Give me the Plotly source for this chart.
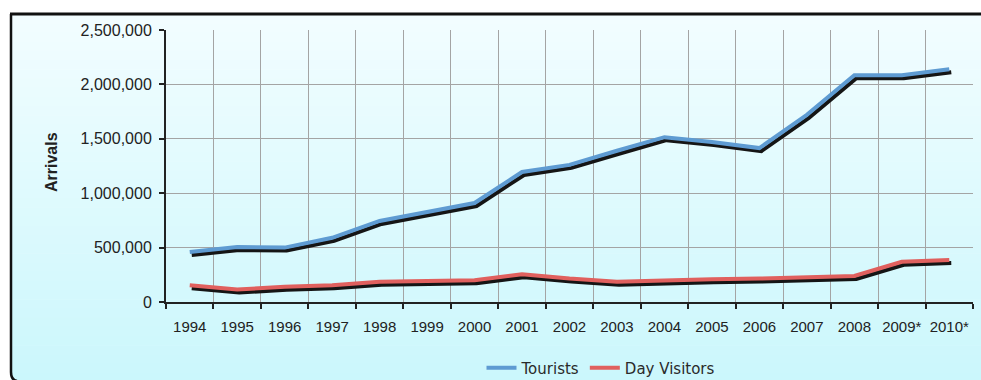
import plotly.graph_objects as go

years = ["1994", "1995", "1996", "1997", "1998", "1999", "2000", "2001", "2002",
         "2003", "2004", "2005", "2006", "2007", "2008", "2009*", "2010*"]
tourists = [460000, 505000, 500000, 590000, 745000, 830000, 910000, 1195000, 1260000,
            1390000, 1515000, 1470000, 1415000, 1720000, 2085000, 2085000, 2140000]
day_visitors = [155000, 115000, 140000, 155000, 185000, 195000, 200000, 255000, 215000,
                185000, 200000, 210000, 215000, 225000, 240000, 370000, 385000]
y_ticks = [0, 500000, 1000000, 1500000, 2000000, 2500000]

W, H = 981, 380
L, R_EDGE, T, B_EDGE = 166, 973, 30, 302
YMAX = 2500000
n = len(years)

def px(x):
    return (x - L) / (R_EDGE - L)

def py(y):
    return (B_EDGE - y) / (B_EDGE - T)

# shadow offset in pixels
SDX, SDY = 2, 3
cat_px = (R_EDGE - L) / n
val_px = YMAX / (B_EDGE - T)
xr = [-0.5, n - 0.5]
yr = [0, YMAX]
xr_sh = [xr[0] - SDX / cat_px, xr[1] - SDX / cat_px]
yr_sh = [yr[0] + SDY * val_px, yr[1] + SDY * val_px]

BLUE = "#5E9BD2"
RED = "#E0605E"
SHADOW = "#151515"
LW = 4

fig = go.Figure()
# invisible carrier trace so the base (visible) axes get built
fig.add_trace(go.Scatter(x=years, y=tourists, mode="lines", xaxis="x", yaxis="y",
                         line=dict(width=0), opacity=0, showlegend=False,
                         hoverinfo="skip"))
for vals in (tourists, day_visitors):
    fig.add_trace(go.Scatter(x=years, y=vals, mode="lines", xaxis="x2", yaxis="y2",
                             line=dict(color=SHADOW, width=LW), showlegend=False,
                             hoverinfo="skip"))
fig.add_trace(go.Scatter(x=years, y=tourists, mode="lines", name="Tourists",
                         xaxis="x3", yaxis="y3", line=dict(color=BLUE, width=LW)))
fig.add_trace(go.Scatter(x=years, y=day_visitors, mode="lines", name="Day Visitors",
                         xaxis="x3", yaxis="y3", line=dict(color=RED, width=LW)))

# background gradient strips
shapes = []
top_c = (242, 253, 255)
bot_c = (203, 247, 252)
N = 40
y0p, y1p = 14, 382
for i in range(N):
    f = i / (N - 1)
    c = tuple(int(round(top_c[k] + (bot_c[k] - top_c[k]) * f)) for k in range(3))
    ya = y0p + (y1p - y0p) * i / N
    yb = y0p + (y1p - y0p) * (i + 1) / N + 0.6
    shapes.append(dict(type="rect", xref="paper", yref="paper", layer="below",
                       x0=px(11), x1=px(995), y0=py(yb), y1=py(ya),
                       fillcolor="rgb(%d,%d,%d)" % c, line=dict(width=0)))
# frame
shapes.append(dict(type="line", xref="paper", yref="paper", layer="above",
                   x0=px(11), x1=px(11), y0=py(372), y1=py(14),
                   line=dict(color="#111111", width=2.5)))
shapes.append(dict(type="path", xref="paper", yref="paper", layer="above",
                   path="M %f,%f Q %f,%f %f,%f" % (px(11), py(372), px(11), py(380), px(17), py(381)),
                   line=dict(color="#111111", width=2.5)))
shapes.append(dict(type="line", xref="paper", yref="paper", layer="above",
                   x0=px(10), x1=px(995), y0=py(14), y1=py(14),
                   line=dict(color="#111111", width=3)))

xfont = dict(family="Liberation Sans, Arial, sans-serif", size=15, color="#222222")
yfont = dict(family="Liberation Sans, Arial, sans-serif", size=16, color="#222222")
hidden_cat = dict(type="category", categoryorder="array", categoryarray=years,
                  overlaying="x", autorange=False, visible=False, fixedrange=True)
hidden_lin = dict(overlaying="y", autorange=False, visible=False, fixedrange=True)

fig.update_layout(
    width=W, height=H,
    margin=dict(l=L, r=W - R_EDGE, t=T, b=H - B_EDGE, autoexpand=False),
    paper_bgcolor="white",
    plot_bgcolor="rgba(0,0,0,0)",
    separators=".,",
    shapes=shapes,
    xaxis=dict(type="category", categoryorder="array", categoryarray=years,
               range=xr, autorange=False, tickson="boundaries", showgrid=True,
               gridcolor="#A4A4A4", gridwidth=1.2, ticks="outside", ticklen=5,
               tickwidth=1.5, tickangle=0, automargin=False,
               tickcolor="#222222", showline=True, linecolor="#222222", linewidth=2,
               tickfont=xfont, ticklabelstandoff=10, zeroline=False, fixedrange=True),
    yaxis=dict(range=yr, autorange=False, tickvals=y_ticks, tickformat=",d",
               showgrid=True, automargin=False,
               gridcolor="#A4A4A4", gridwidth=1.2, ticks="outside", ticklen=5,
               tickwidth=1.5, tickcolor="#222222", showline=True, linecolor="#222222",
               linewidth=2, tickfont=yfont, ticklabelstandoff=4, zeroline=False,
               fixedrange=True),
    xaxis2=dict(hidden_cat, range=xr_sh),
    yaxis2=dict(hidden_lin, range=yr_sh),
    xaxis3=dict(hidden_cat, range=xr),
    yaxis3=dict(hidden_lin, range=yr),
    legend=dict(orientation="h", x=px(601), xanchor="center", y=py(368),
                yanchor="middle", bgcolor="rgba(0,0,0,0)",
                font=dict(family="DejaVu Sans, Verdana, sans-serif", size=15,
                          color="#2a2a2a")),
    annotations=[dict(text="<b>Arrivals</b>", textangle=-90, xref="paper", yref="paper",
                      x=px(51), y=py(162), showarrow=False, xanchor="center",
                      yanchor="middle",
                      font=dict(family="Liberation Sans, Arial, sans-serif", size=16,
                                color="#222222"))],
)

fig.write_html("out.html")
